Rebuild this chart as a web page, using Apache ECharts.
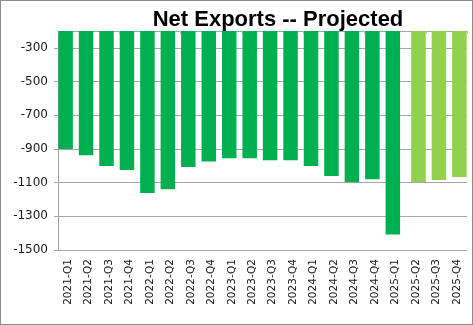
<!DOCTYPE html>
<html>
<head>
<meta charset="utf-8">
<script src="https://cdn.jsdelivr.net/npm/echarts@6/dist/echarts.min.js"></script>
<style>
  html, body { margin: 0; padding: 0; background: #fff; }
  #chart { width: 473px; height: 325px; box-sizing: border-box; border: 1px solid #8c8c8c; }
</style>
</head>
<body>
<div id="chart"></div>
<script>
// Quarterly net exports, actual and projected
const quarters = [
  '2021-Q1', '2021-Q2', '2021-Q3', '2021-Q4',
  '2022-Q1', '2022-Q2', '2022-Q3', '2022-Q4',
  '2023-Q1', '2023-Q2', '2023-Q3', '2023-Q4',
  '2024-Q1', '2024-Q2', '2024-Q3', '2024-Q4',
  '2025-Q1', '2025-Q2', '2025-Q3', '2025-Q4'
];
const actual = [
  -900, -937, -1002, -1025,
  -1161, -1139, -1008, -974,
  -955, -955, -967, -967,
  -1002, -1061, -1096, -1080,
  -1408, null, null, null
];
const projected = [
  null, null, null, null,
  null, null, null, null,
  null, null, null, null,
  null, null, null, null,
  null, -1096, -1084, -1067
];
const yMin = -1500, yMax = -200, yStep = 200;

const chart = echarts.init(document.getElementById('chart'), null, { renderer: 'canvas' });
const labelFont = 'DejaVu Sans, Verdana, sans-serif';

chart.setOption({
  animation: false,
  backgroundColor: '#fff',
  title: {
    text: 'Net Exports -- Projected',
    left: 277,
    textAlign: 'center',
    top: 8,
    padding: 0,
    textStyle: { fontFamily: 'Liberation Sans, Arial, sans-serif', fontWeight: 'bold', fontSize: 22, color: '#000' }
  },
  grid: { left: 57, right: 5, top: 30, bottom: 74 },
  xAxis: [{
    type: 'category',
    data: quarters,
    position: 'bottom',
    axisLine: { show: false },
    axisTick: { show: false },
    axisLabel: { rotate: 90, margin: 9, fontFamily: labelFont, fontSize: 10.5, color: '#1a1a1a', interval: 0 }
  }, {
    type: 'category',
    data: quarters,
    position: 'top',
    axisLine: { show: false },
    axisTick: { show: true, inside: true, length: 3, lineStyle: { color: '#c8c8c8' } },
    axisLabel: { show: false }
  }],
  yAxis: {
    type: 'value',
    min: yMin,
    max: yMax,
    interval: yStep,
    axisLine: { show: true, lineStyle: { color: '#a6a6a6', width: 1 } },
    axisTick: { show: true, length: 4, lineStyle: { color: '#a6a6a6' } },
    axisLabel: {
      showMaxLabel: false, margin: 10, fontFamily: labelFont, fontSize: 12, color: '#1a1a1a',
      formatter: (v) => String(v)
    },
    splitLine: { show: true, lineStyle: { color: '#a6a6a6', width: 1 } }
  },
  series: [{
    name: 'Actual',
    type: 'bar',
    data: actual,
    barWidth: 14.5,
    barGap: '-64%',
    itemStyle: { color: '#00b050' }
  }, {
    name: 'Projected',
    type: 'bar',
    data: projected,
    barWidth: 14.5,
    barGap: '-64%',
    itemStyle: { color: '#92d050' }
  }]
});
</script>
</body>
</html>
